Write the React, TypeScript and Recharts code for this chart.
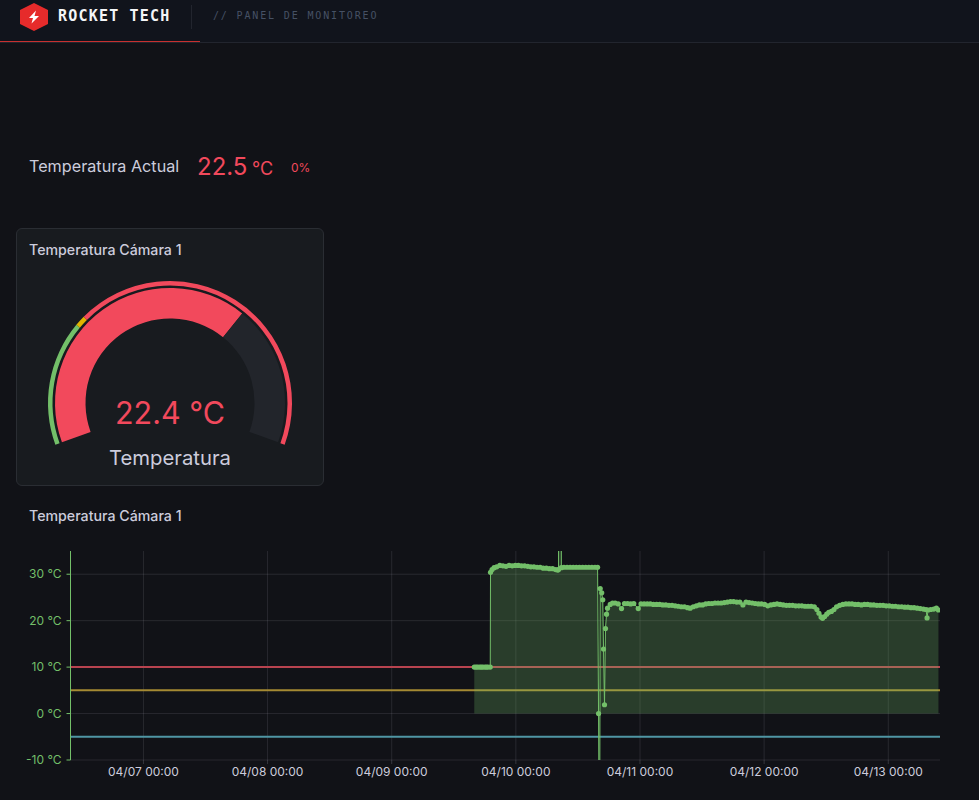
import { Area, CartesianGrid, Cell, ComposedChart, Pie, PieChart, ReferenceLine, XAxis, YAxis } from "recharts";

// hours counted from 04/07 00:00
const xTicks = [0, 24, 48, 72, 96, 120, 144];
const xTickLabels = ["04/07 00:00", "04/08 00:00", "04/09 00:00", "04/10 00:00", "04/11 00:00", "04/12 00:00", "04/13 00:00"];
const yTicks = [-10, 0, 10, 20, 30];

const startHours = [63.96, 64.3, 64.6, 65, 65.3, 65.6, 66, 66.3, 66.6, 67.05];
const startTemps = [10, 10, 10, 10, 10, 10, 10, 10, 10, 10];

const plateauHours = [67.1, 67.4, 67.8, 68.3, 68.9, 69.5, 70.1, 70.7, 71.3, 71.9, 72.5, 73.1, 73.7, 74.3, 74.9, 75.5, 76.1, 76.7, 77.3, 77.9, 78.5, 79.1, 79.7, 80.1];
const plateauTemps = [30.4, 31, 31.4, 31.6, 31.9, 31.8, 31.7, 31.9, 31.8, 31.9, 31.9, 31.8, 31.8, 31.7, 31.6, 31.6, 31.5, 31.5, 31.3, 31.3, 31.2, 31.2, 31, 30.9];

const spikeHours = [80.25, 80.3, 80.76, 80.8];
const spikeTemps = [31, 90, 90, 31.4];

const flatHours = [81.3, 81.9, 82.5, 83.1, 83.7, 84.3, 84.9, 85.5, 86.1, 86.7, 87.3, 87.8];
const flatTemps = [31.5, 31.5, 31.5, 31.5, 31.5, 31.5, 31.5, 31.5, 31.5, 31.5, 31.5, 31.5];

const dropHours = [87.99, 88.12, 88.2, 88.31, 88.6, 88.8, 88.95, 89.14, 89.33, 89.53, 89.72, 90.24, 90.7];
const dropTemps = [0, -30, -30, 26.9, 26, 24.5, 13.9, 1.9, 18.3, 21.4, 22.7, 23.5, 23.8];

const recoveryHours = [91.2, 91.8, 92.43, 93, 93.6, 94.2, 94.8, 95.66, 96.2, 96.8, 97.4, 98, 98.6, 99.2, 99.8, 100.4, 101, 101.6, 102.2, 102.8, 103.4, 104, 104.6, 105.2, 105.7, 106.3, 106.9, 107.5, 108.1, 108.7, 109.3, 109.9, 110.5, 111.1, 111.7, 112.3, 112.9, 113.5, 114.1, 114.7, 115.3, 115.9, 116.5, 117.1, 117.7, 118.3, 118.9, 119.5, 120.1, 120.7, 121.3, 121.9, 122.5, 123.1, 123.7, 124.3, 124.9, 125.5, 126.1, 126.7, 127.3, 127.9, 128.5, 129.1, 129.7, 130.2, 130.6, 131, 131.3, 131.7, 132.1, 132.5, 133, 133.5, 134, 134.6, 135.2, 135.8, 136.4, 137, 137.6, 138.2, 138.8, 139.4, 140, 140.6, 141.2, 141.8, 142.4, 143, 143.6, 144.2, 144.8, 145.4, 146, 146.6, 147.2, 147.8, 148.4, 149, 149.6, 150.2, 150.8, 151.3, 151.5, 151.7, 152.2, 152.8, 153.3, 153.7];
const recoveryTemps = [23.8, 23.6, 22.6, 23.7, 23.7, 23.6, 23.7, 22.6, 23.6, 23.6, 23.6, 23.6, 23.5, 23.5, 23.5, 23.4, 23.4, 23.3, 23.3, 23.2, 23.1, 23, 23, 22.8, 22.7, 23, 23.2, 23.4, 23.4, 23.6, 23.7, 23.7, 23.8, 23.8, 23.8, 23.9, 24, 24.1, 24.1, 24, 24, 23.4, 24, 23.9, 23.8, 23.7, 23.6, 23.6, 23.5, 23.2, 23.4, 23.5, 23.6, 23.5, 23.4, 23.3, 23.3, 23.3, 23.2, 23.2, 23.2, 23.1, 23.1, 23.1, 23, 22.4, 21.6, 20.8, 20.5, 20.9, 21.4, 21.8, 22, 22.4, 23, 23.3, 23.5, 23.6, 23.6, 23.6, 23.5, 23.5, 23.4, 23.5, 23.5, 23.4, 23.4, 23.3, 23.3, 23.3, 23.2, 23.2, 23.1, 23.1, 23, 23, 22.9, 22.9, 22.8, 22.8, 22.7, 22.6, 22.5, 22.4, 20.6, 22.3, 22.4, 22.5, 22.7, 22.3];

const hours = [...startHours, ...plateauHours, ...spikeHours, ...flatHours, ...dropHours, ...recoveryHours];
const temps = [...startTemps, ...plateauTemps, ...spikeTemps, ...flatTemps, ...dropTemps, ...recoveryTemps];
const series = hours.map((h, i) => ({ h, temp: temps[i] }));

const thresholds = [10, 5, -5];
const thresholdColors = ["#b8434f", "#a58a33", "#4f96a4"];

// gauge spans, in °C, from the bottom left end to the bottom right end
const gaugeSpans = [29.1, 13.9];
const gaugeColors = ["#f2495c", "#22252b"];
const ringSpans = [11.7, 1, 30.3];
const ringColors = ["#73bf69", "#e0b400", "#f2495c"];

const sans = "Inter, sans-serif";
const mono = "'DejaVu Sans Mono', monospace";
const label: React.CSSProperties = { position: "absolute", whiteSpace: "nowrap", fontFamily: sans, lineHeight: 1 };

function Header() {
  return (
    <div style={{ position: "absolute", left: 0, top: 0, width: 979, height: 42, background: "#11141c", borderBottom: "1px solid #22252e" }}>
      <div style={{ position: "absolute", left: 0, top: 41, width: 200, height: 1, background: "#c8302f" }} />
      <svg style={{ position: "absolute", left: 20, top: 3 }} width={28} height={28} viewBox="0 0 28 28">
        <polygon points="14,0 28,7 28,21 14,28 0,21 0,7" fill="#e62b2b" />
        <polygon points="16,7.5 9,15 13,15 11.5,20.5 19,13 14.5,13" fill="#fff" />
      </svg>
      <div style={{ ...label, left: 58, top: 9, fontFamily: mono, fontWeight: 700, fontSize: 15, letterSpacing: 1.2, color: "#f4f5f7" }}>ROCKET TECH</div>
      <div style={{ position: "absolute", left: 191, top: 5, width: 1, height: 24, background: "#22252e" }} />
      <div style={{ ...label, left: 213, top: 11, fontFamily: mono, fontSize: 10, letterSpacing: 1.85, color: "#465164" }}>// PANEL DE MONITOREO</div>
    </div>
  );
}

function Gauge() {
  return (
    <div style={{ position: "absolute", left: 16, top: 228, width: 308, height: 258, boxSizing: "border-box", background: "#181b1f", border: "1px solid #2a2d33", borderRadius: 6 }}>
      <div style={{ ...label, left: 12, top: 14, fontSize: 14.2, fontWeight: 500, color: "#ccccdc" }}>Temperatura Cámara 1</div>
      <div style={{ position: "absolute", left: -1, top: -1 }}>
        <PieChart width={308} height={258} margin={{ top: 0, right: 0, bottom: 0, left: 0 }}>
          <Pie data={ringSpans.map((value) => ({ value }))} dataKey="value" cx={154} cy={175} innerRadius={117.5} outerRadius={122} startAngle={200} endAngle={-20} stroke="none" isAnimationActive={false}>
            {ringSpans.map((_, i) => <Cell key={i} fill={ringColors[i]} />)}
          </Pie>
          <Pie data={gaugeSpans.map((value) => ({ value }))} dataKey="value" cx={154} cy={175} innerRadius={84.5} outerRadius={115} startAngle={200} endAngle={-20} stroke="none" isAnimationActive={false}>
            {gaugeSpans.map((_, i) => <Cell key={i} fill={gaugeColors[i]} />)}
          </Pie>
        </PieChart>
      </div>
      <div style={{ ...label, left: 0, width: 306, textAlign: "center", top: 169, fontSize: 30.5, color: "#f2495c" }}>22.4 °C</div>
      <div style={{ ...label, left: 0, width: 306, textAlign: "center", top: 219, fontSize: 20.3, color: "#ccccdc" }}>Temperatura</div>
    </div>
  );
}

function TrendChart() {
  return (
    <ComposedChart width={979} height={260} data={series} margin={{ top: 11, right: 39, bottom: 10, left: 0 }}>
      <CartesianGrid stroke="rgba(204,204,220,0.12)" strokeWidth={1} horizontalValues={yTicks} verticalValues={xTicks} />
      <XAxis
        dataKey="h"
        type="number"
        height={30}
        domain={[-14.1, 154]}
        allowDataOverflow
        ticks={xTicks}
        interval={0}
        tickFormatter={(v: number) => xTickLabels[xTicks.indexOf(v)]}
        axisLine={false}
        tickLine={{ stroke: "rgba(204,204,220,0.2)" }}
        tickSize={4}
        tickMargin={3}
        tick={{ fill: "#ccccdc", fontSize: 12, fontFamily: sans }}
      />
      <YAxis
        type="number"
        width={70.5}
        domain={[-10, 35]}
        allowDataOverflow
        ticks={yTicks}
        interval={0}
        tickFormatter={(v: number) => `${v} °C`}
        axisLine={{ stroke: "#73bf69" }}
        tickLine={{ stroke: "#73bf69" }}
        tickSize={4}
        tickMargin={5}
        tick={{ fill: "#73bf69", fontSize: 12, fontFamily: sans }}
      />
      {thresholds.map((y, i) => (
        <ReferenceLine key={y} y={y} stroke={thresholdColors[i]} strokeWidth={2} zIndex={50} />
      ))}
      <Area
        type="linear"
        dataKey="temp"
        baseValue={0}
        stroke="#73bf69"
        strokeWidth={1}
        fill="#73bf69"
        fillOpacity={0.25}
        dot={{ r: 2.6, fill: "#73bf69", fillOpacity: 1, stroke: "none" }}
        isAnimationActive={false}
      />
    </ComposedChart>
  );
}

export default function App() {
  return (
    <div style={{ position: "absolute", left: 0, top: 0, width: 979, height: 800, overflow: "hidden", background: "#111217" }}>
      <Header />
      <div style={{ ...label, left: 29, top: 158, fontSize: 16.2, color: "#ccccdc" }}>Temperatura Actual</div>
      <div style={{ ...label, left: 197, top: 155, fontSize: 24, color: "#f2495c" }}>22.5</div>
      <div style={{ ...label, left: 252, top: 160, fontSize: 18, color: "#f2495c" }}>°C</div>
      <div style={{ ...label, left: 291, top: 162, fontSize: 12, color: "#f2495c" }}>0%</div>
      <Gauge />
      <div style={{ ...label, left: 29, top: 509, fontSize: 14.2, fontWeight: 500, color: "#ccccdc" }}>Temperatura Cámara 1</div>
      <div style={{ position: "absolute", left: 0, top: 540 }}>
        <TrendChart />
      </div>
    </div>
  );
}
